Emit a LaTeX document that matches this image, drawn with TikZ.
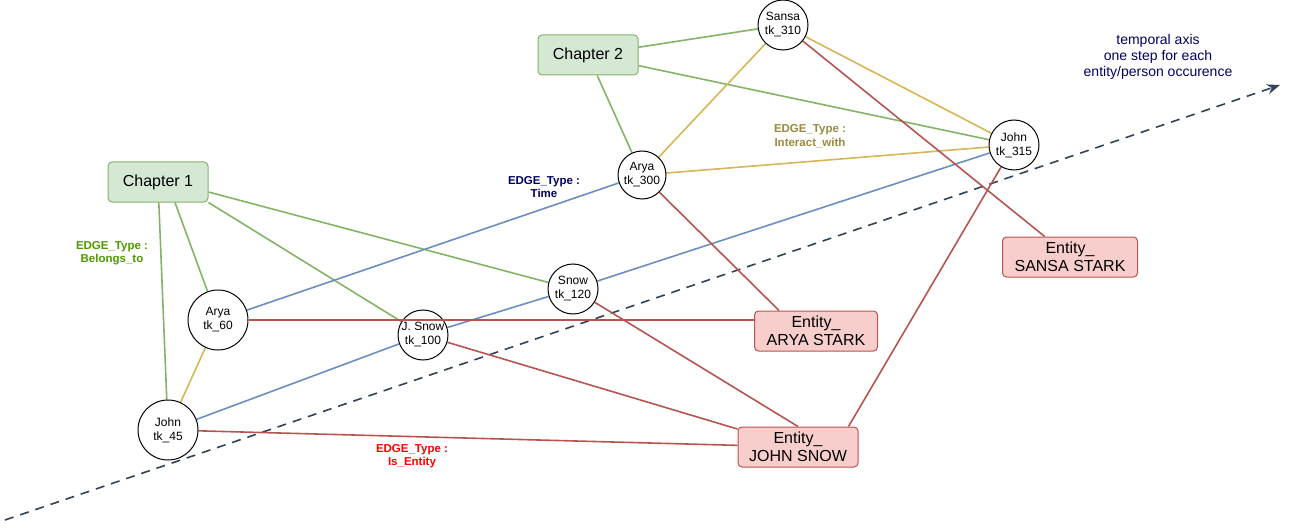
\documentclass[tikz,border=0pt]{standalone}
\usepackage{fontspec}
\setmainfont{Liberation Sans}
\usetikzlibrary{arrows.meta,backgrounds}
\definecolor{grline}{HTML}{82B366}
\definecolor{grfill}{HTML}{D5E8D4}
\definecolor{rdline}{HTML}{B85450}
\definecolor{rdfill}{HTML}{F8CECC}
\definecolor{ylline}{HTML}{D6B656}
\definecolor{blline}{HTML}{6C8EBF}
\definecolor{axline}{HTML}{314354}
\definecolor{navytxt}{HTML}{000066}
\definecolor{greentxt}{HTML}{4D9900}
\definecolor{olivetxt}{HTML}{998A40}

\begin{document}
\begin{tikzpicture}
  [x=1pt,y=-1pt,
   every on background layer/.style={line width=1.6pt},
   every node/.style={align=center,font=\fontsize{12}{14}\selectfont},
   tok/.style={circle,draw=black,line width=1pt,fill=white,minimum size=50pt,inner sep=0pt},
   chap/.style={rectangle,rounded corners=4pt,draw=grline,fill=grfill,line width=1pt,
     minimum width=100pt,minimum height=40pt,font=\fontsize{16}{18}\selectfont},
   ent/.style={rectangle,rounded corners=4pt,draw=rdline,fill=rdfill,line width=1pt,
     minimum height=40pt,inner sep=1pt,font=\fontsize{16}{18}\selectfont},
   lbl/.style={font=\bfseries\fontsize{11.5}{13.5}\selectfont}]
  \useasboundingbox (0,0) rectangle (1291,532);

  % chapters
  \node (ch1) at (158,182) [chap] {Chapter 1};
  \node (ch2) at (588,55)  [chap] {Chapter 2};

  % token occurrences
  \node (a60)  at (218,320) [tok,minimum size=60pt] {Arya\\tk\_60};
  \node (j45)  at (168,430) [tok,minimum size=60pt] {John\\tk\_45};
  \node (js100) at (423,335) [tok] {J. Snow\\tk\_100};
  \node (s120) at (573,289) [tok] {Snow\\tk\_120};
  \node (a300) at (642,175) [tok,minimum size=48pt] {Arya\\tk\_300};
  \node (s310) at (783,25)  [tok] {Sansa\\tk\_310};
  \node (j315) at (1014,145) [tok] {John\\tk\_315};

  % entities
  \node (ea) at (816,331)  [ent,minimum width=123pt] {Entity\_\\ARYA STARK};
  \node (ej) at (798,447)  [ent,minimum width=120pt] {Entity\_\\JOHN SNOW};
  \node (es) at (1070,257) [ent,minimum width=135pt] {Entity\_\\SANSA STARK};

  % temporal axis
  \coordinate (t0) at (5,520);
  \coordinate (t1) at (1280,85);
  \node (tax) at (1158,57) [navytxt,font=\fontsize{14}{16}\selectfont]
    {temporal axis\\one step for each\\entity/person occurence};

  % edge type labels
  \node (lb) at (112,253) [lbl,greentxt] {EDGE\_Type :\\Belongs\_to};
  \node (lt) at (544,187) [lbl,navytxt] {EDGE\_Type :\\Time};
  \node (li) at (810,136) [lbl,olivetxt] {EDGE\_Type :\\Interact\_with};
  \node (le) at (412,456) [lbl,red] {EDGE\_Type :\\Is\_Entity};

  % this one runs over J. Snow
  \draw [rdline,line width=1.6pt] (a60.east) -- (a60.east -| ea.west);

  \begin{scope}[on background layer]
  \draw [axline,dash pattern=on 9pt off 7pt,
    -{Stealth[length=13pt,width=10pt]}] (t0) -- (t1);

  % belongs_to
  \foreach \from/\to in {ch1/j45,ch2/s310,ch2/j315,ch2/a300}
    \draw [grline] (\from) -- (\to);
  \draw [grline] ([xshift=17pt]ch1.south) -- (a60);
  \draw [grline] (ch1.south east) -- (js100);
  \draw [grline] ([yshift=-10pt]ch1.east) -- (s120);

  % interact_with
  \foreach \from/\to in {a60/j45,a300/s310,a300/j315,s310/j315}
    \draw [ylline] (\from) -- (\to);

  % time
  \foreach \from/\to in {j45/js100,js100/s120,s120/j315,a60/a300}
    \draw [blline] (\from) -- (\to);

  % is_entity
  \foreach \from/\to in {j45/ej,js100/ej,s120/ej.north,s310/es}
    \draw [rdline] (\from) -- (\to);
  \draw [rdline] (a300) -- ([xshift=25pt]ea.north west);
  \draw [rdline] (j315) -- ([xshift=-10pt]ej.north east);
  \end{scope}
\end{tikzpicture}
\end{document}
